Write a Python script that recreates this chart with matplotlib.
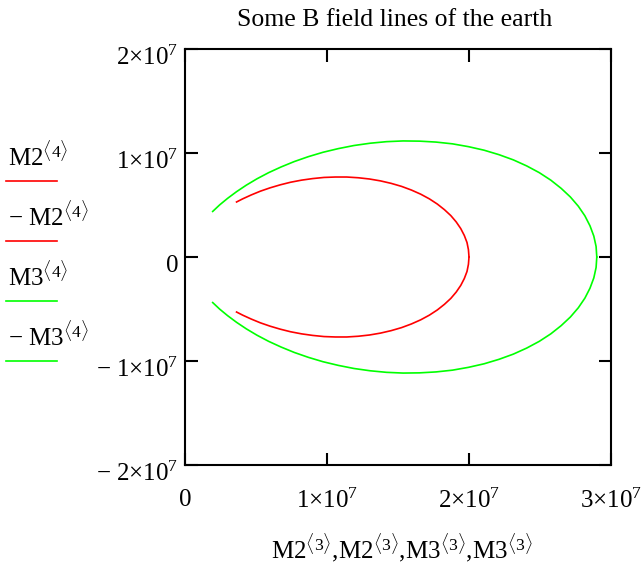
import matplotlib
matplotlib.use("Agg")
import matplotlib.pyplot as plt
from matplotlib.lines import Line2D
from matplotlib.ticker import FixedLocator, FuncFormatter
from matplotlib.transforms import ScaledTranslation
import numpy as np

plt.rcParams['font.family'] = ['Liberation Serif', 'DejaVu Serif']
plt.rcParams['mathtext.fontset'] = 'custom'
plt.rcParams['mathtext.rm'] = 'Liberation Serif'
plt.rcParams['mathtext.it'] = 'Liberation Serif:italic'
plt.rcParams['mathtext.bf'] = 'Liberation Serif:bold'

# field line points (units of 1e6 m), upper half only
m2_x = [3.63, 4.06, 4.67, 5.31, 5.99, 6.71, 7.44, 8.21, 8.99, 9.79, 10.59, 11.39, 12.20, 12.99, 13.76,
        14.52, 15.25, 15.94, 16.60, 17.21, 17.77, 18.27, 18.72, 19.10, 19.42, 19.67, 19.86, 19.96, 20.0]
m2_y = [5.29, 5.59, 5.97, 6.33, 6.65, 6.94, 7.19, 7.39, 7.54, 7.65, 7.69, 7.69, 7.62, 7.50, 7.32,
        7.08, 6.79, 6.44, 6.04, 5.59, 5.09, 4.55, 3.98, 3.37, 2.73, 2.07, 1.39, 0.70, 0.0]
m3_x = [1.95, 2.44, 3.00, 3.63, 4.32, 5.07, 5.89, 6.77, 7.70, 8.69, 9.72, 10.79, 11.90, 13.04, 14.19,
        15.36, 16.52, 17.68, 18.84, 19.96, 21.06, 22.11, 23.12, 24.06, 24.95, 25.76, 26.49, 27.14,
        27.70, 28.16, 28.52, 28.79, 28.95, 29.0]
m3_y = [4.38, 5.01, 5.64, 6.28, 6.91, 7.52, 8.11, 8.66, 9.18, 9.65, 10.07, 10.42, 10.72, 10.94, 11.09,
        11.16, 11.14, 11.05, 10.88, 10.61, 10.27, 9.84, 9.34, 8.76, 8.11, 7.39, 6.60, 5.77,
        4.88, 3.96, 3.00, 2.01, 1.01, 0.0]

series_labels = [r'M2$^{\langle 4\rangle}$', r'$-$ M2$^{\langle 4\rangle}$',
                 r'M3$^{\langle 4\rangle}$', r'$-$ M3$^{\langle 4\rangle}$']
series_colors = ['#ff0000', '#ff0000', '#00ff00', '#00ff00']
title = 'Some B field lines of the earth'
xlabel = r'M2$^{\langle 3\rangle}$,M2$^{\langle 3\rangle}$,M3$^{\langle 3\rangle}$,M3$^{\langle 3\rangle}$'
xticks = [0, 1e7, 2e7, 3e7]
yticks = [-2e7, -1e7, 0, 1e7, 2e7]

fig = plt.figure(figsize=(6.42, 5.67), dpi=100)
ax = fig.add_axes([185/642, 1-465/567, 426/642, 416/567])

scale = 1e6
curves = [
    (np.array(m2_x)*scale, np.array(m2_y)*scale),
    (np.array(m2_x)*scale, -np.array(m2_y)*scale),
    (np.array(m3_x)*scale, np.array(m3_y)*scale),
    (np.array(m3_x)*scale, -np.array(m3_y)*scale),
]
for (x, y), c in zip(curves, series_colors):
    ax.plot(x, y, color=c, lw=1.2)

ax.set_xlim(0, 3e7)
ax.set_ylim(-2e7, 2e7)


def fmt(v, pos):
    if v == 0:
        return '0'
    k = int(round(abs(v)/1e7))
    s = r'$%d{\times}10^{7}$' % k
    if v < 0:
        s = r'$-\ %d{\times}10^{7}$' % k
    return s


ax.xaxis.set_major_locator(FixedLocator(xticks))
ax.yaxis.set_major_locator(FixedLocator(yticks))
ax.xaxis.set_major_formatter(FuncFormatter(fmt))
ax.yaxis.set_major_formatter(FuncFormatter(fmt))
ax.tick_params(direction='in', length=9, width=1.5, labelsize=18, top=True, right=True)
ax.tick_params(axis='x', pad=17)
ax.tick_params(axis='y', pad=5)
for lab in ax.get_yticklabels():
    lab.set_transform(lab.get_transform() + ScaledTranslation(0, -6/100, fig.dpi_scale_trans))
for sp in ax.spines.values():
    sp.set_linewidth(1.5)

fig.text(395/642, 1-20/567, title, ha='center', va='center', fontsize=18.5)
fig.text(402/642, 1-548/567, xlabel, ha='center', va='center', fontsize=18)

# legend on the left, text above a short coloured line
for i, (lab, c) in enumerate(zip(series_labels, series_colors)):
    yl = 180.7 + 60*i
    fig.text(8/642, 1-(yl-14)/567, lab, ha='left', va='baseline', fontsize=18)
    fig.add_artist(Line2D([6/642, 57/642], [1-yl/567, 1-yl/567], color=c, lw=1.2))

fig.savefig('out.png', dpi=100)
